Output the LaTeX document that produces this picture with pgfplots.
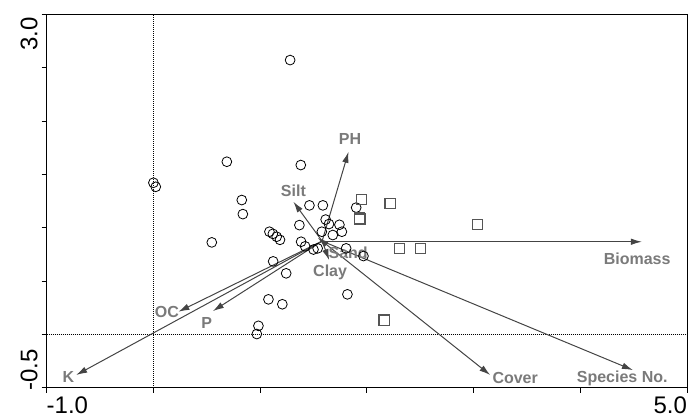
\documentclass[border=0pt]{standalone}
\usepackage{fontspec}
\setmainfont{Liberation Sans}
\usepackage{pgfplots}
\pgfplotsset{compat=1.18}
\usetikzlibrary{arrows.meta}
\definecolor{arr}{HTML}{444444}
\definecolor{lab}{HTML}{7A7A7A}
\definecolor{sq}{HTML}{555555}

\begin{document}
\begin{tikzpicture}
\path[use as bounding box] (-46.7pt,-31.3pt) rectangle (641.3pt,387.7pt);
\begin{axis}[
  scale only axis, width=640.3pt, height=373.4pt,
  xmin=-1, xmax=5, ymin=-0.5, ymax=3,
  axis line style={line width=1pt},
  xtick={-1,0,...,5}, ytick={-0.5,0,...,3},
  xticklabels={\rlap{-1.0},,,,,,\llap{5.0}},
  yticklabels={\rlap{-0.5},,,,,,,\llap{3.0}},
  tick align=outside, xtick pos=bottom, ytick pos=left,
  major tick length=5pt, tick style={line width=0.8pt, black},
  ticklabel style={font=\fontsize{24}{24}\selectfont, inner sep=0pt},
  xticklabel style={yshift=-4pt, anchor=north},
  yticklabel style={xshift=-4pt, yshift=-3pt, rotate=90, anchor=south},
  clip=false,
]
\tikzset{envlab/.style={text=lab, font=\bfseries\fontsize{16}{16}\selectfont, inner sep=1pt}}
% zero lines
\addplot[black, line width=0.5pt, dash pattern=on 1pt off 1pt] coordinates {(0,-0.5) (0,3)};
\addplot[black, line width=0.5pt, dash pattern=on 1pt off 1pt] coordinates {(-1,0) (5,0)};

% sample scores, group 1
\addplot[only marks, mark=o, mark size=4.9pt, mark options={line width=0.8pt, black}] coordinates {
 (1.281,2.571) (0.000,1.421) (0.022,1.383) (0.688,1.618) (1.381,1.587)
 (0.828,1.259) (0.838,1.127) (0.547,0.862) (1.087,0.962) (1.119,0.942)
 (1.155,0.915) (1.186,0.886) (1.462,1.209) (1.588,1.209) (1.900,1.188)
 (1.368,1.024) (1.614,1.076) (1.645,1.034) (1.743,1.027) (1.766,0.962)
 (1.578,0.962) (1.681,0.931) (1.384,0.868) (1.422,0.825) (1.500,0.795)
 (1.539,0.806) (1.806,0.806) (1.968,0.734) (1.122,0.684) (1.244,0.572)
 (1.818,0.375) (1.078,0.328) (1.208,0.282) (0.984,0.080) (0.969,0.003)
};
% sample scores, group 2
\addplot[only marks, mark=square, mark size=5.1pt, mark options={line width=1.1pt, sq}] coordinates {
 (1.953,1.265) (2.218,1.226) (1.931,1.090) (1.935,1.080) (3.040,1.031)
 (2.306,0.802) (2.506,0.807) (2.162,0.134)
};

% environmental arrows
\pgfplotsset{envarrow/.style={arr, line width=1pt, -{Latex[length=11pt,width=6.5pt]}}}
\addplot[envarrow] coordinates {(1.581,0.868) (4.577,0.868)};
\addplot[envarrow] coordinates {(1.581,0.874) (-0.724,-0.381)};
\addplot[envarrow] coordinates {(1.581,0.874) (0.234,0.212)};
\addplot[envarrow] coordinates {(1.581,0.874) (0.557,0.218)};
\addplot[envarrow] coordinates {(1.581,0.874) (1.828,1.711)};
\addplot[envarrow] coordinates {(1.581,0.874) (1.312,1.243)};
\addplot[envarrow] coordinates {(1.581,0.874) (1.540,0.905)};
\addplot[envarrow] coordinates {(1.581,0.874) (1.647,0.696)};
\addplot[envarrow] coordinates {(1.581,0.874) (3.156,-0.381)};
\addplot[envarrow] coordinates {(1.581,0.874) (4.493,-0.335)};

\node[envlab] at (axis cs:4.533,0.712) {Biomass};
\node[envlab] at (axis cs:-0.797,-0.397) {K};
\node[envlab] at (axis cs:0.126,0.212) {OC};
\node[envlab] at (axis cs:0.500,0.109) {P};
\node[envlab] at (axis cs:1.843,1.828) {PH};
\node[envlab] at (axis cs:1.312,1.346) {Silt};
\node[envlab] at (axis cs:1.825,0.764) {Sand};
\node[envlab] at (axis cs:1.656,0.577) {Clay};
\node[envlab] at (axis cs:3.390,-0.407) {Cover};
\node[envlab] at (axis cs:4.393,-0.412) {Species No.};
\end{axis}
\end{tikzpicture}
\end{document}
